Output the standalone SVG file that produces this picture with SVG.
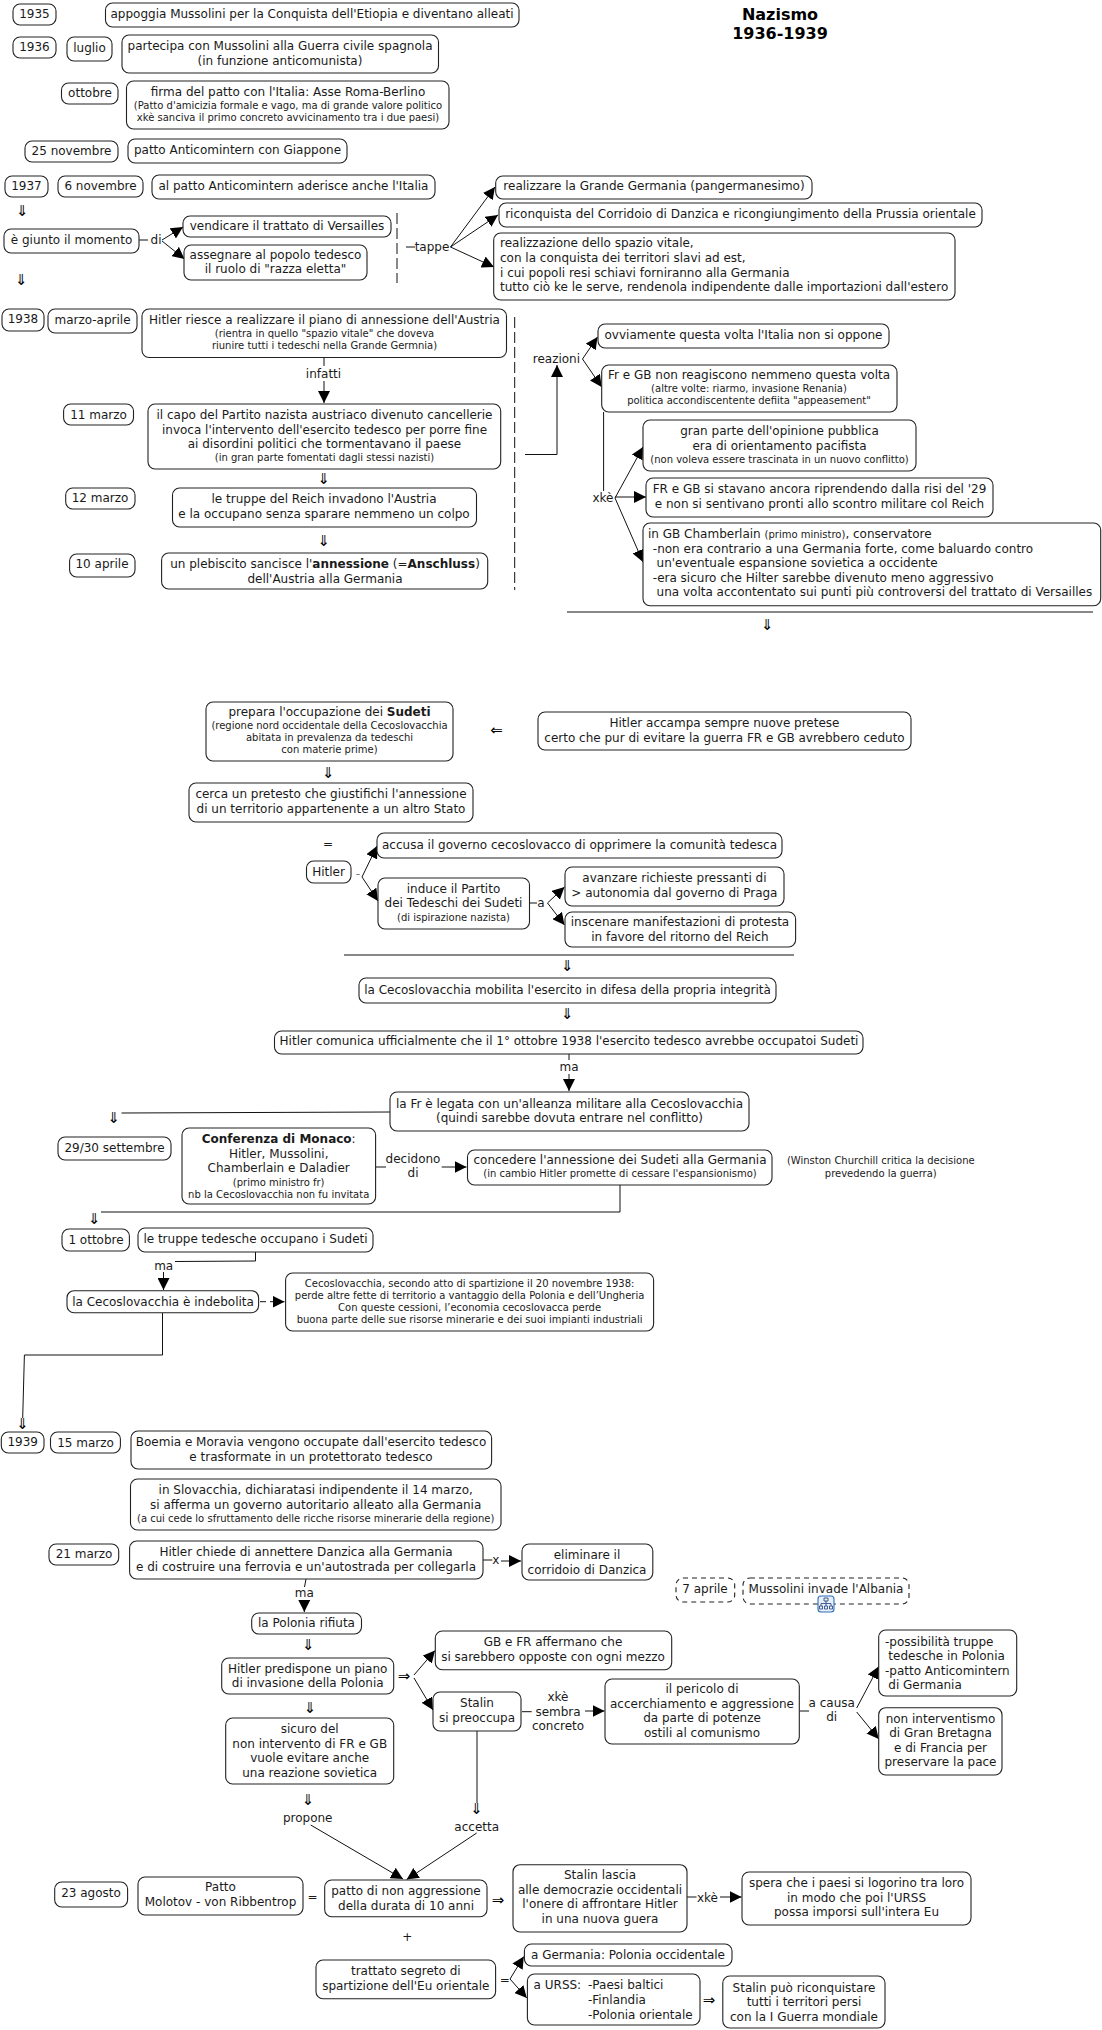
<svg xmlns="http://www.w3.org/2000/svg" width="1102" height="2030" viewBox="0 0 1102 2030">
<style>
text{font-family:"DejaVu Sans",Verdana,sans-serif;font-size:12px;fill:#1a1a1a;text-anchor:middle}
.l{text-anchor:start}
.s{font-size:10px}
.b{font-weight:bold}
.g{font-size:15px;fill:#000}
.ti{font-size:16px;font-weight:bold;fill:#000}
rect{fill:#fff;stroke:#222;stroke-width:1.1}
.d{stroke-dasharray:5 4}
#connectors path{fill:none;stroke:#111;stroke-width:1}
#connectors .a{marker-end:url(#h)}
#connectors .ds{stroke-dasharray:11 4}
</style>
<defs>
<marker id="h" markerUnits="userSpaceOnUse" markerWidth="13" markerHeight="12" refX="12" refY="6" orient="auto"><path d="M0 0L12 6L0 12z" fill="#000"/></marker>
</defs>
<rect x="0" y="0" width="1102" height="2030" style="fill:#fff;stroke:none"/>
<g id="connectors">
<path d="M139 240H148"/><path class="a" d="M162 240L183 227"/><path class="a" d="M162 241L184.500 259"/>
<path class="ds" d="M397 213V283"/>
<path d="M406 247H415"/><path class="a" d="M450.500 247L495 187"/><path class="a" d="M450.500 247L498 215"/><path class="a" d="M450.500 247L494 267"/>
<path class="ds" d="M514.700 317V590"/>
<path d="M324 358V366"/><path class="a" d="M324 381V403"/>
<path class="a" d="M525 454.500H557V365"/>
<path class="a" d="M582.500 359L597.500 337"/><path class="a" d="M582.500 359L601.700 387"/>
<path d="M603.600 412V491"/>
<path class="a" d="M615 498L643 447"/><path class="a" d="M615 497H646"/><path class="a" d="M615 498L643 562"/>
<path d="M567 612H1093"/>
<path class="a" d="M362 877L377 846"/><path class="a" d="M362 877L378 901"/>
<path d="M529.500 903H537"/><path class="a" d="M547.500 903L564.500 887"/><path class="a" d="M547.500 903L564.500 925"/>
<path d="M344 955H794"/>
<path d="M569 1054V1060"/><path class="a" d="M569 1074V1091"/>
<path d="M390 1112L121.500 1113"/>
<path d="M375.600 1167H386"/><path class="a" d="M441.700 1167H466.500"/>
<path d="M620 1185V1212H101"/>
<path d="M255.500 1252V1261L175 1261.500"/><path class="a" d="M163.500 1272V1290"/>
<path d="M260 1301.700H266"/><path class="a" d="M270 1301.700H284.500"/>
<path d="M162.500 1313V1355H24.400L22.700 1418"/>
<path d="M483 1560H492.400"/><path class="a" d="M501 1561H521"/>
<path d="M306 1579L304.500 1587"/><path class="a" d="M304.300 1600V1612"/>
<path class="a" d="M414 1675L435 1650.500"/><path class="a" d="M414 1678L433 1710"/>
<path d="M522 1711.700H531.700"/><path class="a" d="M585 1711H604.500"/>
<path d="M800 1711H809"/><path class="a" d="M856.700 1708L878.700 1666.500"/><path class="a" d="M856.700 1712L878.700 1739"/>
<path d="M477 1731V1803"/>
<path class="a" d="M310.700 1825L403 1879"/><path class="a" d="M476.700 1833L406.700 1879.500"/>
<path d="M687 1897H696.500"/><path class="a" d="M720 1897H741.500"/>
<path class="a" d="M510 1979L523.800 1956.500"/><path class="a" d="M510 1979L526.800 1998"/>
</g>
<g id="labels">
<text x="156" y="244">di</text>
<text x="432" y="251">tappe</text>
<text x="323.500" y="378">infatti</text>
<text x="556.400" y="363">reazioni</text>
<text x="603" y="502">xkè</text>
<text x="358" y="878" style="fill:#777">-</text>
<text x="541" y="907">a</text>
<text x="569" y="1071">ma</text>
<text x="413"><tspan x="413" y="1163">decidono</tspan><tspan x="413" y="1177">di</tspan></text>
<text class="s" x="880.800"><tspan x="880.800" y="1164">(Winston Churchill critica la decisione</tspan><tspan x="880.800" y="1177">prevedendo la guerra)</tspan></text>
<text x="163.700" y="1270">ma</text>
<text x="495.800" y="1564">x</text>
<text x="304.300" y="1597">ma</text>
<text x="558"><tspan x="558" y="1701">xkè</tspan><tspan x="558" y="1715.600">sembra</tspan><tspan x="558" y="1730">concreto</tspan></text>
<text x="831.700"><tspan x="831.700" y="1706.700">a causa</tspan><tspan x="831.700" y="1721">di</tspan></text>
<text x="307.700" y="1821.700">propone</text>
<text x="476.700" y="1831">accetta</text>
<text x="707.500" y="1902">xkè</text>
<text x="312.500" y="1901">=</text>
<text x="407.400" y="1940.700">+</text>
<text x="504.800" y="1984">=</text>
<text x="328" y="848">=</text>
<text class="g" x="22" y="216">⇓</text><text class="g" x="21" y="285">⇓</text>
<text class="g" x="323.600" y="484">⇓</text><text class="g" x="323.600" y="546">⇓</text>
<text class="g" x="767" y="630">⇓</text>
<text class="g" x="496.500" y="735">⇐</text>
<text class="g" x="328" y="778">⇓</text>
<text class="g" x="567" y="971">⇓</text><text class="g" x="567" y="1019">⇓</text>
<text class="g" x="113.500" y="1123">⇓</text><text class="g" x="94" y="1224">⇓</text>
<text class="g" x="22.300" y="1429">⇓</text>
<text class="g" x="308" y="1650">⇓</text><text class="g" x="309.700" y="1712.700">⇓</text><text class="g" x="307.700" y="1805">⇓</text>
<text class="g" x="404" y="1680.700">⇒</text>
<text class="g" x="476.300" y="1814">⇓</text>
<text class="g" x="498" y="1905">⇒</text>
<text class="g" x="709" y="2005">⇒</text>
</g>
<g id="title"><text class="ti"><tspan x="780" y="19.500">Nazismo</tspan><tspan x="780" y="38.500">1936-1939</tspan></text></g>
<g id="n1"><rect x="13" y="4" width="43" height="21" rx="7"/><text x="34.500" y="18">1935</text></g>
<g id="n2"><rect x="105.500" y="3" width="413.500" height="24" rx="7"/><text x="312" y="18">appoggia Mussolini per la Conquista dell'Etiopia e diventano alleati</text></g>
<g id="n3"><rect x="13" y="37" width="43" height="21" rx="7"/><text x="34.500" y="51">1936</text></g>
<g id="n4"><rect x="67" y="37" width="45" height="24" rx="7"/><text x="89.500" y="52">luglio</text></g>
<g id="n5"><rect x="122" y="35" width="316.500" height="38" rx="7"/><text><tspan x="280" y="50">partecipa con Mussolini alla Guerra civile spagnola</tspan><tspan x="280" y="64.700">(in funzione anticomunista)</tspan></text></g>
<g id="n6"><rect x="61.500" y="83" width="56.500" height="21" rx="7"/><text x="90" y="97">ottobre</text></g>
<g id="n7"><rect x="126.500" y="81" width="322.500" height="48" rx="7"/><text><tspan x="288" y="95.700">firma del patto con l'Italia: Asse Roma-Berlino</tspan><tspan class="s" x="288" y="109.300">(Patto d'amicizia formale e vago, ma di grande valore politico</tspan><tspan class="s" x="288" y="121.300">xkè sanciva il primo concreto avvicinamento tra i due paesi)</tspan></text></g>
<g id="n8"><rect x="25" y="141" width="93" height="21" rx="7"/><text x="71.500" y="155">25 novembre</text></g>
<g id="n9"><rect x="128" y="139" width="219" height="24" rx="7"/><text x="237.500" y="154">patto Anticomintern con Giappone</text></g>
<g id="n10"><rect x="5" y="176" width="43" height="21" rx="7"/><text x="26.500" y="190">1937</text></g>
<g id="n11"><rect x="58" y="176" width="85" height="21" rx="7"/><text x="100.500" y="190">6 novembre</text></g>
<g id="n12"><rect x="152" y="175" width="283" height="24" rx="7"/><text x="293.500" y="190">al patto Anticomintern aderisce anche l'Italia</text></g>
<g id="n13"><rect x="4" y="229" width="135" height="24" rx="7"/><text x="71.500" y="243.700">è giunto il momento</text></g>
<g id="n14"><rect x="183" y="216" width="208" height="21" rx="7"/><text x="287" y="230">vendicare il trattato di Versailles</text></g>
<g id="n15"><rect x="184" y="245" width="183" height="35" rx="7"/><text><tspan x="275.500" y="259">assegnare al popolo tedesco</tspan><tspan x="275.500" y="273.300">il ruolo di "razza eletta"</tspan></text></g>
<g id="n16"><rect x="495.700" y="176" width="316.300" height="23" rx="7"/><text x="654" y="190">realizzare la Grande Germania (pangermanesimo)</text></g>
<g id="n17"><rect x="499" y="203" width="483" height="24" rx="7"/><text x="740.500" y="218">riconquista del Corridoio di Danzica e ricongiungimento della Prussia orientale</text></g>
<g id="n18"><rect x="493.700" y="233" width="461.300" height="67" rx="7"/><text class="l"><tspan x="500" y="247.300">realizzazione dello spazio vitale,</tspan><tspan x="500" y="261.900">con la conquista dei territori slavi ad est,</tspan><tspan x="500" y="276.500">i cui popoli resi schiavi forniranno alla Germania</tspan><tspan x="500" y="291">tutto ciò ke le serve, rendenola indipendente dalle importazioni dall'estero</tspan></text></g>
<g id="n19"><rect x="2" y="309" width="42" height="22" rx="7"/><text x="23" y="323.300">1938</text></g>
<g id="n20"><rect x="48" y="309" width="89" height="24" rx="7"/><text x="92.500" y="324">marzo-aprile</text></g>
<g id="n21"><rect x="142" y="309" width="364.500" height="48.500" rx="7"/><text><tspan x="324.500" y="324">Hitler riesce a realizzare il piano di annessione dell'Austria</tspan><tspan class="s" x="324.500" y="337.300">(rientra in quello "spazio vitale" che doveva</tspan><tspan class="s" x="324.500" y="349">riunire tutti i tedeschi nella Grande Germnia)</tspan></text></g>
<g id="n22"><rect x="63.600" y="404" width="69.900" height="21" rx="7"/><text x="98.500" y="418.700">11 marzo</text></g>
<g id="n23"><rect x="148" y="404" width="352.700" height="65" rx="7"/><text><tspan x="324.500" y="419">il capo del Partito nazista austriaco divenuto cancellerie</tspan><tspan x="324.500" y="433.600">invoca l'intervento dell'esercito tedesco per porre fine</tspan><tspan x="324.500" y="448.200">ai disordini politici che tormentavano il paese</tspan><tspan class="s" x="324.500" y="461.300">(in gran parte fomentati dagli stessi nazisti)</tspan></text></g>
<g id="n24"><rect x="65.700" y="488" width="69.300" height="21" rx="7"/><text x="100" y="502">12 marzo</text></g>
<g id="n25"><rect x="172.500" y="488" width="304" height="39" rx="7"/><text><tspan x="324" y="503">le truppe del Reich invadono l'Austria</tspan><tspan x="324" y="517.600">e la occupano senza sparare nemmeno un colpo</tspan></text></g>
<g id="n26"><rect x="69.600" y="554" width="65.400" height="23" rx="7"/><text x="102" y="568">10 aprile</text></g>
<g id="n27"><rect x="161.600" y="553" width="326.100" height="36" rx="7"/><text><tspan x="325" y="568">un plebiscito sancisce l'<tspan class="b">annessione</tspan> (=<tspan class="b">Anschluss</tspan>)</tspan><tspan x="325" y="582.600">dell'Austria alla Germania</tspan></text></g>
<g id="n28"><rect x="598" y="324" width="291" height="24" rx="7"/><text x="743.500" y="339">ovviamente questa volta l'Italia non si oppone</text></g>
<g id="n29"><rect x="601.700" y="365" width="295.300" height="47" rx="7"/><text><tspan x="749" y="379.300">Fr e GB non reagiscono nemmeno questa volta</tspan><tspan class="s" x="749" y="392.300">(altre volte: riarmo, invasione Renania)</tspan><tspan class="s" x="749" y="404.300">politica accondiscentente defiita "appeasement"</tspan></text></g>
<g id="n30"><rect x="643" y="420" width="273" height="51" rx="7"/><text><tspan x="779.500" y="435">gran parte dell'opinione pubblica</tspan><tspan x="779.500" y="449.600">era di orientamento pacifista</tspan><tspan class="s" x="779.500" y="463">(non voleva essere trascinata in un nuovo conflitto)</tspan></text></g>
<g id="n31"><rect x="646" y="478" width="347" height="39" rx="7"/><text><tspan x="819.500" y="493">FR e GB si stavano ancora riprendendo dalla risi del '29</tspan><tspan x="819.500" y="507.600">e non si sentivano pronti allo scontro militare col Reich</tspan></text></g>
<g id="n32"><rect x="643" y="523" width="457.700" height="82.700" rx="7"/><text class="l"><tspan x="648" y="538">in GB Chamberlain <tspan class="s">(primo ministro)</tspan>, conservatore</tspan><tspan x="652.800" y="552.600">-non era contrario a una Germania forte, come baluardo contro</tspan><tspan x="656.600" y="567">un'eventuale espansione sovietica a occidente</tspan><tspan x="652.800" y="581.700">-era sicuro che Hilter sarebbe divenuto meno aggressivo</tspan><tspan x="656.600" y="596.300">una volta accontentato sui punti più controversi del trattato di Versailles</tspan></text></g>
<g id="n33"><rect x="206" y="702" width="247" height="59" rx="7"/><text><tspan x="329.500" y="716">prepara l'occupazione dei <tspan class="b">Sudeti</tspan></tspan><tspan class="s" x="329.500" y="729.300">(regione nord occidentale della Cecoslovacchia</tspan><tspan class="s" x="329.500" y="741.300">abitata in prevalenza da tedeschi</tspan><tspan class="s" x="329.500" y="753.300">con materie prime)</tspan></text></g>
<g id="n34"><rect x="538" y="712" width="373" height="38" rx="7"/><text><tspan x="724.500" y="727.300">Hitler accampa sempre nuove pretese</tspan><tspan x="724.500" y="742">certo che pur di evitare la guerra FR e GB avrebbero ceduto</tspan></text></g>
<g id="n35"><rect x="189" y="783" width="284" height="39" rx="7"/><text><tspan x="331" y="798">cerca un pretesto che giustifichi l'annessione</tspan><tspan x="331" y="812.700">di un territorio appartenente a un altro Stato</tspan></text></g>
<g id="n36"><rect x="377" y="833" width="405" height="25" rx="7"/><text x="579.500" y="849">accusa il governo cecoslovacco di opprimere la comunità tedesca</text></g>
<g id="n37"><rect x="306.500" y="861" width="44.500" height="22" rx="7"/><text x="328.500" y="876">Hitler</text></g>
<g id="n38"><rect x="378" y="878" width="151.500" height="51" rx="7"/><text><tspan x="453.500" y="893">induce il Partito</tspan><tspan x="453.500" y="907.300">dei Tedeschi dei Sudeti</tspan><tspan class="s" x="453.500" y="920.700">(di ispirazione nazista)</tspan></text></g>
<g id="n39"><rect x="565" y="867" width="219" height="39" rx="7"/><text><tspan x="674.400" y="882">avanzare richieste pressanti di</tspan><tspan x="674.400" y="896.700">&gt; autonomia dal governo di Praga</tspan></text></g>
<g id="n40"><rect x="565" y="912" width="230.600" height="35" rx="7"/><text><tspan x="680" y="926">inscenare manifestazioni di protesta</tspan><tspan x="680" y="940.700">in favore del ritorno del Reich</tspan></text></g>
<g id="n41"><rect x="359" y="978" width="417" height="25" rx="7"/><text x="567.500" y="994">la Cecoslovacchia mobilita l'esercito in difesa della propria integrità</text></g>
<g id="n42"><rect x="274.500" y="1031" width="588.500" height="23" rx="7"/><text x="569" y="1045.300">Hitler comunica ufficialmente che il 1° ottobre 1938 l'esercito tedesco avrebbe occupatoi Sudeti</text></g>
<g id="n43"><rect x="390" y="1092" width="359" height="39" rx="7"/><text><tspan x="569.500" y="1108">la Fr è legata con un'alleanza militare alla Cecoslovacchia</tspan><tspan x="569.500" y="1122.300">(quindi sarebbe dovuta entrare nel conflitto)</tspan></text></g>
<g id="n44"><rect x="58" y="1137" width="113" height="23" rx="7"/><text x="114.500" y="1152">29/30 settembre</text></g>
<g id="n45"><rect x="182" y="1128" width="193.600" height="76" rx="7"/><text><tspan x="278.700" y="1143.300"><tspan class="b">Conferenza di Monaco</tspan>:</tspan><tspan x="278.700" y="1158">Hitler, Mussolini,</tspan><tspan x="278.700" y="1172.300">Chamberlain e Daladier</tspan><tspan class="s" x="278.700" y="1185.700">(primo ministro fr)</tspan><tspan class="s" x="278.700" y="1198">nb la Cecoslovacchia non fu invitata</tspan></text></g>
<g id="n46"><rect x="467.500" y="1150" width="304.500" height="35" rx="7"/><text><tspan x="620" y="1164.300">concedere l'annessione dei Sudeti alla Germania</tspan><tspan class="s" x="620" y="1177.300">(in cambio Hitler promette di cessare l'espansionismo)</tspan></text></g>
<g id="n47"><rect x="62" y="1229" width="67.400" height="22" rx="7"/><text x="96" y="1244">1 ottobre</text></g>
<g id="n48"><rect x="138" y="1228" width="235" height="24" rx="7"/><text x="255.500" y="1243">le truppe tedesche occupano i Sudeti</text></g>
<g id="n49"><rect x="67" y="1290.700" width="191.600" height="22" rx="7"/><text x="163" y="1305.700">la Cecoslovacchia è indebolita</text></g>
<g id="n50"><rect x="285.600" y="1273" width="368" height="58" rx="7"/><text class="s"><tspan x="469.600" y="1287.300">Cecoslovacchia, secondo atto di spartizione il 20 novembre 1938:</tspan><tspan x="469.600" y="1299.300">perde altre fette di territorio a vantaggio della Polonia e dell’Ungheria</tspan><tspan x="469.600" y="1311.300">Con queste cessioni, l’economia cecoslovacca perde</tspan><tspan x="469.600" y="1323.300">buona parte delle sue risorse minerarie e dei suoi impianti industriali</tspan></text></g>
<g id="n51"><rect x="1.300" y="1432" width="42.700" height="21" rx="7"/><text x="22.700" y="1445.700">1939</text></g>
<g id="n52"><rect x="50.500" y="1432" width="69.900" height="21" rx="7"/><text x="85.500" y="1446.700">15 marzo</text></g>
<g id="n53"><rect x="131" y="1431" width="360.600" height="38" rx="7"/><text><tspan x="311" y="1446">Boemia e Moravia vengono occupate dall'esercito tedesco</tspan><tspan x="311" y="1460.700">e trasformate in un protettorato tedesco</tspan></text></g>
<g id="n54"><rect x="130.500" y="1479" width="370.500" height="51" rx="7"/><text><tspan x="315.700" y="1494">in Slovacchia, dichiaratasi indipendente il 14 marzo,</tspan><tspan x="315.700" y="1508.700">si afferma un governo autoritario alleato alla Germania</tspan><tspan class="s" x="315.700" y="1522">(a cui cede lo sfruttamento delle ricche risorse minerarie della regione)</tspan></text></g>
<g id="n55"><rect x="49" y="1544" width="69.700" height="21" rx="7"/><text x="84" y="1557.700">21 marzo</text></g>
<g id="n56"><rect x="129.600" y="1541" width="353.400" height="38" rx="7"/><text><tspan x="306" y="1556">Hitler chiede di annettere Danzica alla Germania</tspan><tspan x="306" y="1570.700">e di costruire una ferrovia e un'autostrada per collegarla</tspan></text></g>
<g id="n57"><rect x="522" y="1544" width="130.800" height="36" rx="7"/><text><tspan x="587" y="1559">eliminare il</tspan><tspan x="587" y="1573.700">corridoio di Danzica</tspan></text></g>
<g id="n58"><rect class="d" x="676" y="1578" width="58.700" height="24" rx="7"/><text x="705" y="1593">7 aprile</text></g>
<g id="n59"><rect class="d" x="743" y="1578" width="166" height="26" rx="7"/><text x="826" y="1593">Mussolini invade l'Albania</text>
<rect x="818" y="1596" width="16" height="16" rx="3" style="fill:#e8eff9;stroke:#2f6fb7"/><path d="M824 1598h4v3h-4zM819.500 1606h3v3h-3zM824.500 1606h3v3h-3zM829.500 1606h3v3h-3zM826 1601v5M821 1606v-2.500h10v2.500" style="fill:none;stroke:#1f3f7a;stroke-width:.8"/></g>
<g id="n60"><rect x="251.700" y="1613" width="109.800" height="21" rx="7"/><text x="306.500" y="1627">la Polonia rifiuta</text></g>
<g id="n61"><rect x="221.700" y="1658" width="172" height="36" rx="7"/><text><tspan x="307.700" y="1673">Hitler predispone un piano</tspan><tspan x="307.700" y="1687.300">di invasione della Polonia</tspan></text></g>
<g id="n62"><rect x="435.300" y="1631" width="236.400" height="38.700" rx="7"/><text><tspan x="553" y="1646">GB e FR affermano che</tspan><tspan x="553" y="1660.700">si sarebbero opposte con ogni mezzo</tspan></text></g>
<g id="n63"><rect x="433" y="1692" width="88" height="39" rx="7"/><text><tspan x="477" y="1707">Stalin</tspan><tspan x="477" y="1721.700">si preoccupa</tspan></text></g>
<g id="n64"><rect x="605" y="1679" width="194.300" height="65" rx="7"/><text><tspan x="702" y="1693">il pericolo di</tspan><tspan x="702" y="1707.700">accerchiamento e aggressione</tspan><tspan x="702" y="1722.300">da parte di potenze</tspan><tspan x="702" y="1736.700">ostili al comunismo</tspan></text></g>
<g id="n65"><rect x="878.700" y="1630" width="138" height="66" rx="7"/><text class="l"><tspan x="885" y="1645.700">-possibilità truppe</tspan><tspan x="888.300" y="1660">tedesche in Polonia</tspan><tspan x="885" y="1674.700">-patto Anticomintern</tspan><tspan x="888.300" y="1689.300">di Germania</tspan></text></g>
<g id="n66"><rect x="878.700" y="1707.700" width="123.300" height="67.300" rx="7"/><text><tspan x="940.500" y="1722.700">non interventismo</tspan><tspan x="940.500" y="1737">di Gran Bretagna</tspan><tspan x="940.500" y="1751.700">e di Francia per</tspan><tspan x="940.500" y="1766.300">preservare la pace</tspan></text></g>
<g id="n67"><rect x="225.700" y="1718" width="168" height="66" rx="7"/><text><tspan x="309.700" y="1733">sicuro del</tspan><tspan x="309.700" y="1747.700">non intervento di FR e GB</tspan><tspan x="309.700" y="1762">vuole evitare anche</tspan><tspan x="309.700" y="1776.700">una reazione sovietica</tspan></text></g>
<g id="n68"><rect x="54.700" y="1882" width="72.900" height="25" rx="7"/><text x="91" y="1897.300">23 agosto</text></g>
<g id="n69"><rect x="138" y="1877" width="165" height="38" rx="7"/><text><tspan x="220.500" y="1891.300">Patto</tspan><tspan x="220.500" y="1906.300">Molotov - von Ribbentrop</tspan></text></g>
<g id="n70"><rect x="324.700" y="1880" width="162.300" height="36.700" rx="7"/><text><tspan x="406" y="1894.700">patto di non aggressione</tspan><tspan x="406" y="1909.700">della durata di 10 anni</tspan></text></g>
<g id="n71"><rect x="513" y="1864.700" width="174" height="67.300" rx="7"/><text><tspan x="600" y="1879">Stalin lascia</tspan><tspan x="600" y="1894">alle democrazie occidentali</tspan><tspan x="600" y="1908.300">l'onere di affrontare Hitler</tspan><tspan x="600" y="1923.300">in una nuova guera</tspan></text></g>
<g id="n72"><rect x="742" y="1872" width="229" height="53" rx="7"/><text><tspan x="856.500" y="1887.300">spera che i paesi si logorino tra loro</tspan><tspan x="856.500" y="1901.700">in modo che poi l'URSS</tspan><tspan x="856.500" y="1916.300">possa imporsi sull'intera Eu</tspan></text></g>
<g id="n73"><rect x="316" y="1960" width="179.600" height="38.700" rx="7"/><text><tspan x="405.800" y="1975.300">trattato segreto di</tspan><tspan x="405.800" y="1990">spartizione dell'Eu orientale</tspan></text></g>
<g id="n74"><rect x="524.400" y="1944" width="207.600" height="22" rx="7"/><text x="628" y="1959.300">a Germania: Polonia occidentale</text></g>
<g id="n75"><rect x="527.400" y="1974" width="172.600" height="51" rx="7"/><text class="l"><tspan x="533.600" y="1989.300">a URSS:</tspan><tspan x="588" y="1989.300">-Paesi baltici</tspan><tspan x="588" y="2004">-Finlandia</tspan><tspan x="588" y="2018.700">-Polonia orientale</tspan></text></g>
<g id="n76"><rect x="722.800" y="1976" width="162.200" height="52" rx="7"/><text><tspan x="804" y="1992">Stalin può riconquistare</tspan><tspan x="804" y="2006.300">tutti i territori persi</tspan><tspan x="804" y="2021">con la I Guerra mondiale</tspan></text></g>
</svg>
